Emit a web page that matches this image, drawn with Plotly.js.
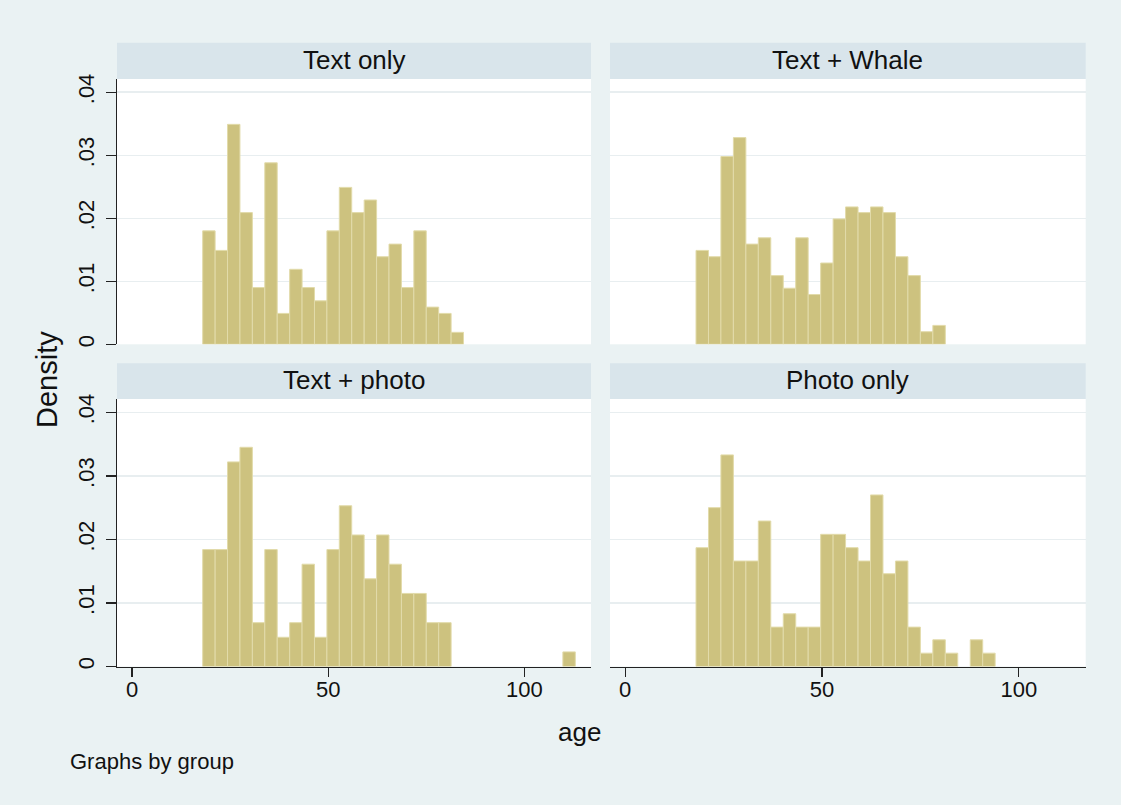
<!DOCTYPE html>
<html>
<head>
<meta charset="utf-8">
<script src="https://cdn.plot.ly/plotly-3.0.1.min.js"></script>
<style>
  html, body { margin: 0; padding: 0; background: #EAF2F3; }
  #chart { width: 1121px; height: 805px; }
</style>
</head>
<body>
<div id="chart"></div>
<script>
// ---- Data ----
const panelTitles = ["Text only", "Text + Whale", "Text + photo", "Photo only"];
const binWidth = 3.1667;
const binStarts = [18.00, 21.17, 24.33, 27.50, 30.67, 33.83, 37.00, 40.17, 43.33, 46.50,
                   49.67, 52.83, 56.00, 59.17, 62.33, 65.50, 68.67, 71.83, 75.00, 78.17,
                   81.33, 84.50, 87.67, 90.83, 94.00, 97.17, 100.33, 103.50, 106.67, 109.83];
const textOnly  = [0.0180, 0.0149, 0.0349, 0.0209, 0.0090, 0.0288, 0.0049, 0.0119, 0.0090, 0.0069,
                   0.0180, 0.0249, 0.0209, 0.0229, 0.0139, 0.0159, 0.0090, 0.0180, 0.0059, 0.0049,
                   0.0019];
const textWhale = [0.0149, 0.0139, 0.0298, 0.0328, 0.0159, 0.0169, 0.0109, 0.0089, 0.0169, 0.0079,
                   0.0129, 0.0199, 0.0218, 0.0209, 0.0218, 0.0209, 0.0139, 0.0109, 0.0020, 0.0030];
const textPhoto = [0.0184, 0.0184, 0.0322, 0.0345, 0.0069, 0.0184, 0.0046, 0.0069, 0.0161, 0.0046,
                   0.0184, 0.0253, 0.0207, 0.0138, 0.0207, 0.0161, 0.0115, 0.0115, 0.0069, 0.0069,
                   0, 0, 0, 0, 0, 0, 0, 0, 0, 0.0023];
const photoOnly = [0.0187, 0.0250, 0.0333, 0.0166, 0.0166, 0.0229, 0.0062, 0.0083, 0.0062, 0.0062,
                   0.0208, 0.0208, 0.0187, 0.0166, 0.0270, 0.0146, 0.0166, 0.0062, 0.0021, 0.0042,
                   0.0021, 0, 0.0042, 0.0021];
const yTickVals = [0, 0.01, 0.02, 0.03, 0.04];
const yTickText = ["0", ".01", ".02", ".03", ".04"];
const xTickVals = [0, 50, 100];
const xTickText = ["0", "50", "100"];

// ---- Layout geometry (pixels) ----
const W = 1121, H = 805;
const FONT = "Liberation Sans, Arial, sans-serif";
const colL = [117, 591], colR = [610, 1085.7];
const rowTop = {strip: [42.7, 79], plot: [79, 344.3]};
const rowBot = {strip: [363.3, 399], plot: [399, 666.5]};
const px = v => v / W;
const py = v => 1 - v / H;

const series = [textOnly, textWhale, textPhoto, photoOnly];
const cols = [colL, colR, colL, colR];
const rows = [rowTop, rowTop, rowBot, rowBot];

const barFill = "#CDC27F";
const barLine = "#E2DBAA";
const xRange = [-3.85, 117];
const yRange = [0, 0.0421];

const traces = [];
const layout = {
  width: W, height: H,
  margin: {l: 0, r: 0, t: 0, b: 0},
  paper_bgcolor: "#EAF2F3",
  plot_bgcolor: "#FFFFFF",
  showlegend: false,
  bargap: 0,
  font: {family: FONT, color: "#111"},
  shapes: [],
  annotations: []
};

series.forEach((vals, i) => {
  const n = i + 1;
  const xa = n === 1 ? "x" : "x" + n;
  const ya = n === 1 ? "y" : "y" + n;
  // skip empty bins so no zero-height outlines are drawn
  const xs = [], ys = [];
  vals.forEach((v, k) => { if (v > 0) { xs.push(binStarts[k]); ys.push(v); } });
  traces.push({
    type: "bar",
    x: xs,
    y: ys,
    width: binWidth,
    offset: 0,
    xaxis: xa, yaxis: ya,
    marker: {color: barFill, line: {color: barLine, width: 1}},
    hoverinfo: "x+y"
  });
  const isBottom = i >= 2;
  const isLeft = i % 2 === 0;
  const c = cols[i], r = rows[i];
  layout["xaxis" + (n === 1 ? "" : n)] = {
    domain: [px(c[0]), px(c[1])],
    anchor: ya,
    range: xRange,
    showgrid: false, zeroline: false,
    showline: isBottom, linecolor: "#222", linewidth: 1.3,
    ticks: isBottom ? "outside" : "", ticklen: 9, tickwidth: 1.3, tickcolor: "#222",
    showticklabels: isBottom,
    tickvals: xTickVals, ticktext: xTickText,
    ticklabelstandoff: -6,
    tickfont: {family: FONT, size: 22, color: "#111"}
  };
  layout["yaxis" + (n === 1 ? "" : n)] = {
    domain: [py(r.plot[1]), py(r.plot[0])],
    anchor: xa,
    range: yRange,
    showgrid: true, gridcolor: "#E8EEF0", gridwidth: 1.5,
    zeroline: false,
    showline: isLeft, linecolor: "#222", linewidth: 1.3,
    ticks: isLeft ? "outside" : "", ticklen: 10, tickwidth: 1.3, tickcolor: "#222",
    showticklabels: isLeft,
    tickvals: yTickVals, ticktext: yTickText,
    tickangle: -90,
    ticklabelstandoff: 3,
    tickfont: {family: FONT, size: 22, color: "#111"}
  };
  // strip header
  layout.shapes.push({
    type: "rect", xref: "paper", yref: "paper",
    x0: px(c[0]), x1: px(c[1]), y0: py(r.strip[1]), y1: py(r.strip[0]),
    fillcolor: "#D9E5EB", line: {width: 0}, layer: "below"
  });
  layout.annotations.push({
    xref: "paper", yref: "paper",
    x: px((c[0] + c[1]) / 2), y: py((r.strip[0] + r.strip[1]) / 2 - 1),
    xanchor: "center", yanchor: "middle",
    text: panelTitles[i], showarrow: false,
    font: {family: FONT, size: 26, color: "#111"}
  });
});

layout.annotations.push({
  xref: "paper", yref: "paper", x: px(47), y: py(380),
  xanchor: "center", yanchor: "middle", textangle: -90,
  text: "Density", showarrow: false,
  font: {family: FONT, size: 29, color: "#111"}
});
layout.annotations.push({
  xref: "paper", yref: "paper", x: px(579), y: py(732),
  xanchor: "center", yanchor: "middle",
  text: "age", showarrow: false,
  font: {family: FONT, size: 26, color: "#111"}
});
layout.annotations.push({
  xref: "paper", yref: "paper", x: px(68), y: py(761),
  xanchor: "left", yanchor: "middle",
  text: "Graphs by group", showarrow: false,
  font: {family: FONT, size: 22, color: "#111"}
});

Plotly.newPlot("chart", traces, layout, {displayModeBar: false, staticPlot: true});
</script>
</body>
</html>
